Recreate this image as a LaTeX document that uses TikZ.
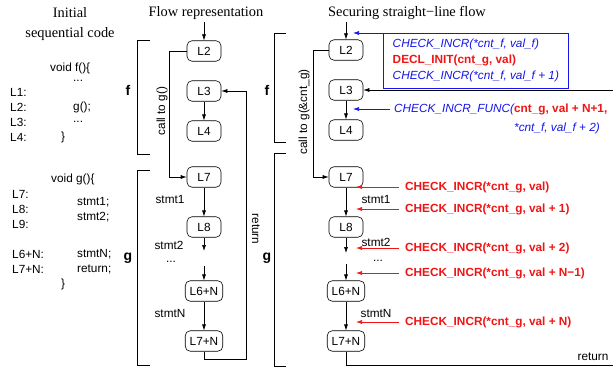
\documentclass[tikz,border=0pt]{standalone}
\usepackage{fontspec}
\setmainfont{Liberation Sans}
\newfontfamily\titlefont{Liberation Serif}
\usetikzlibrary{arrows.meta,calc}
\definecolor{myblue}{RGB}{20,20,235}
\definecolor{myred}{RGB}{240,20,20}
\begin{document}
\begin{tikzpicture}[x=1pt,y=-1pt,
  every node/.style={font=\fontsize{11.8}{14}\selectfont, inner sep=0pt},
  ttl/.style={font=\titlefont\fontsize{14.4}{17}\selectfont},
  lbl/.style={font=\fontsize{11.8}{14}\selectfont},
  code/.style={anchor=west},
  dots/.style={text height=1.6pt, text depth=0pt},
  blk/.style={draw, rounded corners=5pt, minimum width=34pt, minimum height=20.5pt, inner xsep=4.5pt, line width=0.6pt},
  arr/.style={-{Latex[length=6pt,width=4pt]}, line width=0.6pt},
  brk/.style={line width=0.6pt},
  fg/.style={font=\bfseries\fontsize{14}{16}\selectfont},
  barr/.style={arr, myblue},
  rarr/.style={arr, myred},
  rt/.style={font=\bfseries\fontsize{11.8}{14}\selectfont, text=myred}
]
\useasboundingbox (0,0) rectangle (613,369);

% ---------- left column ----------
\node[ttl] (t1) at (70,13) {Initial};
\node[ttl] (t2) at (70,34) {sequential code};
\node[code] (vf) at (50,68) {void f()\{};
\node[code, dots] (d1) at (73,81) {...};
\node[code] (l1) at (10,92) {L1:};
\node[code] (l2) at (10,107) {L2:};
\node[code] (g1) at (73,107) {g();};
\node[code] (l3) at (10,122) {L3:};
\node[code, dots] (d2) at (73,122) {...};
\node[code] (l4) at (10,137) {L4:};
\node[code] (c1) at (61,137) {\}};
\node[code] (vg) at (51,179) {void g()\{};
\node[code] (l7) at (12,194) {L7:};
\node[code] (s1) at (77,202) {stmt1;};
\node[code] (l8) at (12,209) {L8:};
\node[code] (s2) at (77,217) {stmt2;};
\node[code] (l9) at (12,224) {L9:};
\node[code] (l6n) at (12,254) {L6+N:};
\node[code] (sn) at (77,254) {stmtN;};
\node[code] (l7n) at (12,269) {L7+N:};
\node[code] (rt1) at (77,269) {return;};
\node[code] (c2) at (61,284) {\}};

% ---------- middle column ----------
\node[ttl] (t3) at (206,13) {Flow representation};
\draw[brk] (150,40) -- (137,40) -- (137,154) -- (150,154);
\draw[brk] (150,170) -- (137,170) -- (137,365) -- (150,365);
\node[fg] (mf) at (128,90) {f};
\node[fg] (mg) at (128,258) {g};

\node[blk] (mL2) at (204,51) {L2};
\node[blk] (mL3) at (204,91) {L3};
\node[blk] (mL4) at (204,131) {L4};
\node[blk] (mL7) at (204,177) {L7};
\node[blk] (mL8) at (204,227) {L8};
\node[blk] (mL6) at (204,291) {L6+N};
\node[blk] (mL7N) at (204,341) {L7+N};
\coordinate (mtop) at (204,22);
\coordinate (mgap1) at (204,251);
\coordinate (mgap2) at (204,266);
\coordinate (mret) at (246,91);
\draw[arr] (mtop) -- (mL2);
\draw[arr] (mL3) -- (mL4);
\draw[arr] (mL7) -- (mL8);
\draw[arr] (mL8) -- (mgap1);
\draw[arr] (mgap2) -- (mL6);
\draw[arr] (mL6) -- (mL7N);
\draw[arr] (mL2.west) -- ++(-17,0) |- (mL7.west);
\draw[arr] (mL7N.south) -- ++(0,8) -| (mret) -- (mL3.east);
\node[lbl, rotate=90] (mcall) at (162,111) {call to g()};
\node[lbl, rotate=-90] (mreturn) at (256,229) {return};
\node[lbl] (ms1) at (170,199) {stmt1};
\node[lbl] (ms2) at (169,245) {stmt2};
\node[lbl, dots] (mdots) at (171,262) {...};
\node[lbl] (msn) at (170,313) {stmtN};

% ---------- right column ----------
\node[ttl] (t4) at (407,13) {Securing straight\textminus line flow};
\draw[brk] (286,33) -- (274,33) -- (274,142) -- (286,142);
\draw[brk] (286,153) -- (274,153) -- (274,366) -- (286,366);
\node[fg] (rf) at (267,90) {f};
\node[fg] (rg) at (267,258) {g};

\node[blk] (rL2) at (346,50) {L2};
\node[blk] (rL3) at (346,90) {L3};
\node[blk] (rL4) at (346,130) {L4};
\node[blk] (rL7) at (346,177) {L7};
\node[blk] (rL8) at (346,227) {L8};
\node[blk] (rL6) at (346,291) {L6+N};
\node[blk] (rL7N) at (346,341) {L7+N};
\coordinate (rtop) at (346,22);
\coordinate (rgap1) at (346,253);
\coordinate (rgap2) at (346,264);
\coordinate (rr1) at (625,365);
\coordinate (rr2) at (625,90);
\draw[arr] (rtop) -- (rL2);
\draw[arr] (rL3) -- (rL4);
\draw[arr] (rL7) -- (rL8);
\draw[arr] (rL8) -- (rgap1);
\draw[arr] (rgap2) -- (rL6);
\draw[arr] (rL6) -- (rL7N);
\draw[arr] (rL2.west) -- ++(-15,0) |- (rL7.west);
\draw[arr] (rL7N.south) |- (rr1) -- (rr2) -- (rL3.east);
\node[lbl, rotate=90] (rcall) at (304,112) {call to g(\&cnt\_g)};
\node[lbl] (rret) at (593,357) {return};
\node[lbl] (rs1) at (376,199) {stmt1};
\node[lbl] (rs2) at (376,242) {stmt2};
\node[lbl, dots] (rdots) at (378,261) {...};
\node[lbl] (rsn) at (376,313) {stmtN};

% blue box
\node[draw=myblue, line width=0.7pt, anchor=north west, minimum width=185pt, minimum height=55pt,
      inner xsep=8pt, align=left, font=\fontsize{11.8}{16}\selectfont] (bbox) at (383,33)
  {{\color{myblue}\itshape CHECK\_INCR(*cnt\_f, val\_f)}\\
   {\color{myred}\bfseries DECL\_INIT(cnt\_g, val)}\\
   {\color{myblue}\itshape CHECK\_INCR(*cnt\_f, val\_f + 1)}};
\coordinate (bt1) at (353,33);
\draw[barr] (bbox.north west) -- (bt1);

\node[anchor=west, inner xsep=4pt] (func) at (390,109)
  {{\color{myblue}\itshape CHECK\_INCR\_FUNC(}{\color{myred}\bfseries cnt\_g, val + N+1,}};
\node[anchor=west, inner xsep=4pt] (func2) at (390,128)
  {\phantom{\itshape CHECK\_INCR\_FUNC(}{\color{myblue}\itshape *cnt\_f, val\_f + 2)}};
\coordinate (bt2) at (353,109);
\draw[barr] (func.west) -- (bt2);

% red checks
\foreach \y/\t/\n in {187/{val}/a, 209/{val + 1}/b, 248/{val + 2}/c, 273/{val + N\textminus 1}/d, 322/{val + N}/e}{
  \node[rt, anchor=west, inner xsep=6pt] (chk\n) at (399,\y) {CHECK\_INCR(*cnt\_g, \t)};
  \coordinate (ct\n) at (356,\y);
  \draw[rarr] (chk\n.west) -- (ct\n);
}
\end{tikzpicture}
\end{document}
